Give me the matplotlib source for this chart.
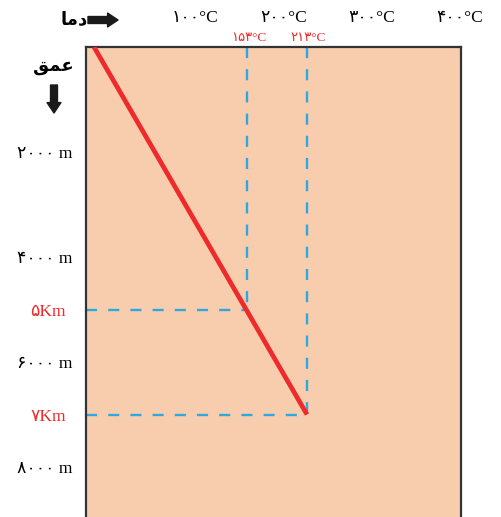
import matplotlib
matplotlib.use("Agg")
import matplotlib.pyplot as plt

# ---- data ----
line_depth = [0, 7000]          # m
line_temp = [0, 213]            # degC
mark_temp = [153, 213]          # degC
mark_depth = [5000, 7000]       # m
mark_temp_labels = ['۱۵۳°C', '۲۱۳°C']
mark_depth_labels = ['۵Km', '۷Km']
depth_ticks = [2000, 4000, 6000, 8000]
depth_tick_labels = ['۲۰۰۰ m', '۴۰۰۰ m', '۶۰۰۰ m', '۸۰۰۰ m']
temp_ticks = [100, 200, 300, 400]
temp_tick_labels = ['۱۰۰°C', '۲۰۰°C', '۳۰۰°C', '۴۰۰°C']
title_temp = '\uFE8E\uFEE3\uFEA9'      # دما (visual order, shaped)
title_depth = '\uFED6\uFEE4\uFECB'     # عمق (visual order, shaped)

FAM = ['Liberation Serif', 'DejaVu Sans']
FAM_B = ['DejaVu Sans']
RED = '#EE2A2A'
BLUE = '#2EA8E0'
FILL = '#F8CDAE'
DARK = '#333333'

W, H = 501, 517
fig = plt.figure(figsize=(W / 100, H / 100), dpi=100)
ax_top, ax_bot = 47, 530
ax = fig.add_axes([86 / W, (H - ax_bot) / H, (461 - 86) / W, (ax_bot - ax_top) / H])
ax.set_facecolor(FILL)
ax.set_xlim(-8, 367)
ax.set_ylim(9200, 0)

for s in ['top', 'left', 'right']:
    ax.spines[s].set_color(DARK)
    ax.spines[s].set_linewidth(1.6)
ax.spines['bottom'].set_visible(False)

# dashed guides
for t, d in zip(mark_temp, mark_depth):
    ax.plot([t, t], [0, d], color=BLUE, lw=1.7, dashes=(4.7, 4.7))
    ax.plot([-8, t], [d, d], color=BLUE, lw=1.7, dashes=(4.7, 4.7))

# geotherm
ax.plot(line_temp, line_depth, color=RED, lw=3.4, solid_capstyle='butt', zorder=5)

# y ticks (left)
yt = depth_ticks + mark_depth
ylab = depth_tick_labels + mark_depth_labels
ax.set_yticks(yt)
ax.set_yticklabels(ylab, family=FAM, fontsize=12.5)
ax.tick_params(axis='y', length=0, pad=10)
for tk, lab in zip(ax.yaxis.get_major_ticks(), ylab):
    if lab in mark_depth_labels:
        tk.set_pad(14.5)
        tk.label1.set_color(RED)
ax.set_xticks([])

# top temperature scale
a, b = 12.7, 0.883
sec = ax.secondary_xaxis('top', functions=(lambda T: (T - a) / b, lambda L: a + b * L))
sec.set_xticks(temp_ticks)
sec.set_xticklabels(temp_tick_labels, family=FAM, fontsize=12.5)
sec.tick_params(length=0, pad=15)
sec.spines['top'].set_visible(False)

# red temperature labels above box
for t, lab in zip(mark_temp, mark_temp_labels):
    ax.annotate(lab, xy=(t, 1.0), xycoords=('data', 'axes fraction'),
                xytext=(1, 2), textcoords='offset points', ha='center', va='bottom',
                color=RED, family=FAM, fontsize=9.5)

# axis titles with arrows
fig.text(88 / W, 1 - 19 / H, title_temp, family=FAM_B, fontweight='bold',
         fontsize=13, ha='right', va='center')
fig.text(53 / W, 1 - 66 / H, title_depth, family=FAM_B, fontweight='bold',
         fontsize=13, ha='center', va='center')
arr = dict(arrowstyle='simple,head_length=0.75,head_width=1.0,tail_width=0.5',
           shrinkA=0, shrinkB=0, mutation_scale=10, color='#1a1a1a')
fig.add_artist(matplotlib.patches.FancyArrowPatch((88, H - 20), (118, H - 20),
               transform=None, **arr))
fig.add_artist(matplotlib.patches.FancyArrowPatch((54, H - 85), (54, H - 113),
               transform=None, **arr))

fig.savefig('out.png', dpi=100)
